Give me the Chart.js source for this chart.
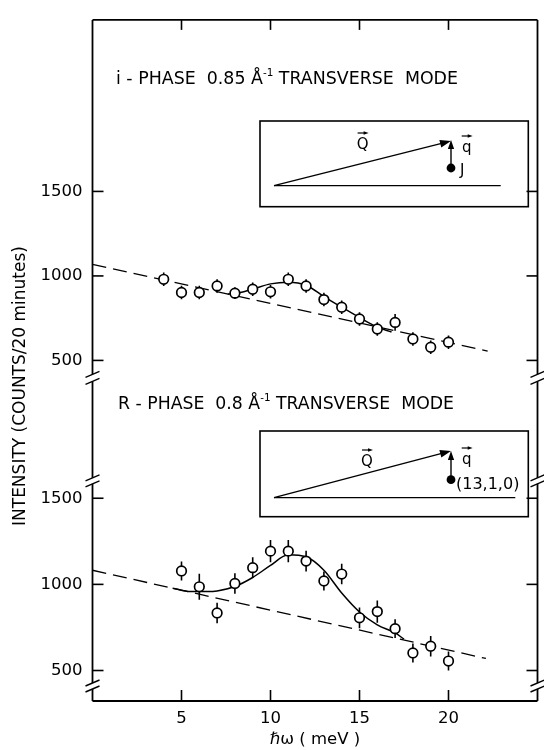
<!DOCTYPE html>
<html>
<head>
<meta charset="utf-8">
<script src="https://cdn.jsdelivr.net/npm/chart.js@4.4.0/dist/chart.umd.min.js"></script>
<style>
  html, body { margin: 0; padding: 0; background: #fff; }
  #wrap { position: relative; width: 544px; height: 750px; }
</style>
</head>
<body>
<div id="wrap"><canvas id="c" width="544" height="750"></canvas></div>
<script>
// i-phase, 0.85 1/A transverse mode
const energyTop = [4, 5, 6, 7, 8, 9, 10, 11, 12, 13, 14, 15, 16, 17, 18, 19, 20];
const countsTop = [980, 902, 902, 941, 898, 921, 906, 980, 941, 860, 815, 745, 686, 725, 627, 578, 608];
const errTop    = [40, 40, 40, 40, 35, 40, 40, 40, 40, 40, 40, 40, 40, 50, 40, 40, 40];
const fitTopX   = [7.6, 8, 9, 10, 11, 12, 13, 14, 15, 16, 16.8];
const fitTopY   = [893, 895, 922, 953, 963, 945, 878, 815, 754, 697, 668];
const bgTopX    = [0, 22.2];
const bgTopY    = [1068, 555];

// R-phase, 0.8 1/A transverse mode
const energyBot = [5, 6, 7, 8, 9, 10, 11, 12, 13, 14, 15, 16, 17, 18, 19, 20];
const countsBot = [1078, 986, 834, 1005, 1097, 1193, 1193, 1135, 1020, 1060, 806, 842, 743, 602, 641, 555];
const errBot    = [55, 75, 60, 60, 60, 65, 65, 60, 55, 60, 60, 65, 55, 55, 60, 55];
const fitBotX   = [4.5, 5.5, 6.5, 7, 8, 9, 10, 11, 12, 13, 14, 15, 16, 17, 17.5];
const fitBotY   = [978, 958, 958, 962, 988, 1040, 1110, 1172, 1160, 1082, 950, 840, 765, 718, 682];
const bgBotX    = [0, 22.1];
const bgBotY    = [1082, 570];

const xTicks = [5, 10, 15, 20];
const yTicks = [500, 1000, 1500];

const ink = '#000';
const FONT = 'DejaVu Sans';

const pts = (xs, ys) => xs.map((x, i) => ({ x, y: ys[i] }));
function errSegments(xs, ys, es) {
  const out = [];
  xs.forEach((x, i) => {
    out.push({ x, y: ys[i] - es[i] }, { x, y: ys[i] + es[i] }, { x, y: null });
  });
  return out;
}

function markers(xs, ys, axis) {
  return {
    data: pts(xs, ys), yAxisID: axis, showLine: false,
    pointRadius: 4.8, pointBorderWidth: 1.7,
    pointBackgroundColor: '#fff', pointBorderColor: ink, order: 0
  };
}
function errBars(xs, ys, es, axis) {
  return {
    data: errSegments(xs, ys, es), yAxisID: axis, showLine: true, spanGaps: false,
    borderColor: ink, borderWidth: 1.6, pointRadius: 0, order: 1
  };
}
function fitLine(xs, ys, axis) {
  return {
    data: pts(xs, ys), yAxisID: axis, showLine: true, cubicInterpolationMode: 'monotone',
    borderColor: ink, borderWidth: 1.5, pointRadius: 0, order: 2
  };
}
function bgLine(xs, ys, axis) {
  return {
    data: pts(xs, ys), yAxisID: axis, showLine: true, borderDash: [14, 7],
    borderColor: ink, borderWidth: 1.3, pointRadius: 0, order: 3
  };
}

function line(ctx, x1, y1, x2, y2) {
  ctx.beginPath(); ctx.moveTo(x1, y1); ctx.lineTo(x2, y2); ctx.stroke();
}
function arrow(ctx, x1, y1, x2, y2, head) {
  const ang = Math.atan2(y2 - y1, x2 - x1);
  line(ctx, x1, y1, x2 - Math.cos(ang) * head * 0.6, y2 - Math.sin(ang) * head * 0.6);
  ctx.beginPath();
  ctx.moveTo(x2, y2);
  ctx.lineTo(x2 - head * Math.cos(ang) + head * 0.35 * Math.sin(ang), y2 - head * Math.sin(ang) - head * 0.35 * Math.cos(ang));
  ctx.lineTo(x2 - head * Math.cos(ang) - head * 0.35 * Math.sin(ang), y2 - head * Math.sin(ang) + head * 0.35 * Math.cos(ang));
  ctx.closePath(); ctx.fill();
}
function vecLabel(ctx, txt, x, y) {
  ctx.textAlign = 'center'; ctx.textBaseline = 'middle';
  ctx.fillText(txt, x, y);
  ctx.lineWidth = 1.2;
  arrow(ctx, x - 5, y - 12, x + 6, y - 12, 5);
}
// runs of text (with superscripts), squeezed to a target width
function runsText(ctx, runs, x, y, width, size) {
  let total = 0;
  runs.forEach(r => {
    ctx.font = (r.sup ? size * 0.6 : size) + 'px "' + FONT + '"';
    total += ctx.measureText(r.t).width;
  });
  ctx.save();
  ctx.translate(x, y);
  ctx.scale(width / total, 1);
  ctx.textAlign = 'left'; ctx.textBaseline = 'middle';
  let cx = 0;
  runs.forEach(r => {
    ctx.font = (r.sup ? size * 0.6 : size) + 'px "' + FONT + '"';
    ctx.fillText(r.t, cx, r.sup ? -size * 0.38 : 0);
    cx += ctx.measureText(r.t).width;
  });
  ctx.restore();
}

const decor = {
  id: 'decor',
  afterDraw(chart) {
    const ctx = chart.ctx, a = chart.chartArea;
    const sx = chart.scales.x, yT = chart.scales.yTop, yB = chart.scales.yBot;
    ctx.save();
    ctx.strokeStyle = ink; ctx.fillStyle = ink; ctx.lineWidth = 1.8;

    // frame with axis breaks
    line(ctx, a.left, a.top, a.right, a.top);
    line(ctx, a.left, a.bottom, a.right, a.bottom);
    const mid = yT.bottom;
    const breaks = [[mid - 3.5, mid + 3.5], [yB.top + 100, yB.top + 106], [a.bottom - 18, a.bottom - 12]];
    [a.left, a.right].forEach(x => {
      let y0 = a.top;
      breaks.forEach(([b1, b2]) => {
        line(ctx, x, y0, x, b1);
        ctx.lineWidth = 1.4;
        line(ctx, x - 7, b1 + 3, x + 7, b1 - 3);
        line(ctx, x - 7, b2 + 3, x + 7, b2 - 3);
        ctx.lineWidth = 1.8;
        y0 = b2;
      });
      line(ctx, x, y0, x, a.bottom);
    });

    // inward tick marks
    ctx.lineWidth = 1.6;
    [yT, yB].forEach(s => {
      yTicks.forEach(v => {
        const p = s.getPixelForValue(v);
        line(ctx, a.left, p, a.left + 11, p);
        line(ctx, a.right - 11, p, a.right, p);
      });
    });
    xTicks.forEach(v => {
      const p = sx.getPixelForValue(v);
      line(ctx, p, a.bottom, p, a.bottom - 11);
      line(ctx, p, a.top, p, a.top + 10);
    });

    // panel titles
    runsText(ctx, [{ t: 'i - PHASE  0.85 Å' }, { t: '-1', sup: true }, { t: ' TRANSVERSE  MODE' }], 116, 80, 342, 17);
    runsText(ctx, [{ t: 'R - PHASE  0.8 Å' }, { t: '-1', sup: true }, { t: ' TRANSVERSE  MODE' }], 118, 405, 336, 17);

    // inset diagrams
    ctx.lineWidth = 1.6;
    ctx.strokeRect(260, 121, 268.3, 85.7);
    ctx.strokeRect(260, 431, 268.3, 85.7);
    ctx.lineWidth = 1.4;
    line(ctx, 274, 185.6, 500.7, 185.6);
    line(ctx, 274, 497.6, 515.3, 497.6);
    arrow(ctx, 274, 185.6, 451, 141, 11);
    arrow(ctx, 274, 497.6, 451, 451, 11);
    arrow(ctx, 451, 166, 451, 140, 9);
    arrow(ctx, 451, 477, 451, 451, 9);
    ctx.beginPath(); ctx.arc(451, 168, 4.4, 0, Math.PI * 2); ctx.fill();
    ctx.beginPath(); ctx.arc(451, 479.7, 4.4, 0, Math.PI * 2); ctx.fill();
    ctx.font = '15px "' + FONT + '"';
    vecLabel(ctx, 'Q', 362.6, 145);
    vecLabel(ctx, 'q', 466.7, 148);
    vecLabel(ctx, 'Q', 367, 462);
    vecLabel(ctx, 'q', 466.7, 460);
    ctx.font = '15px "' + FONT + '"';
    ctx.textAlign = 'left'; ctx.textBaseline = 'middle';
    ctx.fillText('J', 460, 171);
    ctx.font = '16px "' + FONT + '"';
    ctx.fillText('(13,1,0)', 456, 485);

    // axis titles
    ctx.font = '16.5px "' + FONT + '"';
    ctx.textAlign = 'center'; ctx.textBaseline = 'middle';
    ctx.fillText('ℏω ( meV )', (a.left + a.right) / 2, 740);
    ctx.save();
    ctx.translate(21, 386);
    ctx.rotate(-Math.PI / 2);
    ctx.font = '17px "' + FONT + '"';
    ctx.fillText('INTENSITY (COUNTS/20 minutes)', 0, 0, 282);
    ctx.restore();
    ctx.restore();
  }
};

const tickFont = { family: FONT, size: 16.5 };
function yScale(min, max, weight) {
  return {
    type: 'linear', position: 'left', stack: 'panels', stackWeight: weight,
    min, max,
    afterBuildTicks: s => { s.ticks = yTicks.map(v => ({ value: v })); },
    afterFit: s => { s.width = 92.5; },
    grid: { display: false, drawTicks: false },
    border: { display: false },
    ticks: { color: ink, font: tickFont, padding: 10, callback: v => String(v) }
  };
}

new Chart(document.getElementById('c'), {
  type: 'scatter',
  data: {
    datasets: [
      markers(energyTop, countsTop, 'yTop'),
      errBars(energyTop, countsTop, errTop, 'yTop'),
      fitLine(fitTopX, fitTopY, 'yTop'),
      bgLine(bgTopX, bgTopY, 'yTop'),
      markers(energyBot, countsBot, 'yBot'),
      errBars(energyBot, countsBot, errBot, 'yBot'),
      fitLine(fitBotX, fitBotY, 'yBot'),
      bgLine(bgBotX, bgBotY, 'yBot')
    ]
  },
  options: {
    responsive: false,
    animation: false,
    devicePixelRatio: 1,
    layout: { padding: { top: 15, right: 1, left: 0, bottom: 0 } },
    plugins: { legend: { display: false }, tooltip: { enabled: false } },
    scales: {
      x: {
        type: 'linear', min: 0, max: 25,
        afterBuildTicks: s => { s.ticks = xTicks.map(v => ({ value: v })); },
        afterFit: s => { s.height = 49; },
        grid: { display: false, drawTicks: false },
        border: { display: false },
        ticks: { color: ink, font: tickFont, padding: 8 }
      },
      // left stacked axes: the one listed last is placed on top
      yBot: yScale(323, 2199, 325.5),
      yTop: yScale(397, 2515, 360.5)
    }
  },
  plugins: [decor]
});
</script>
</body>
</html>
